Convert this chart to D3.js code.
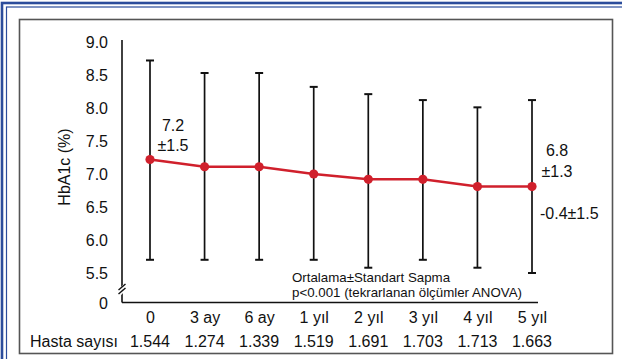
<!DOCTYPE html>
<html>
<head>
<meta charset="utf-8">
<script src="https://cdn.jsdelivr.net/npm/d3@7"></script>
<style>
  body { margin: 0; background: #fff; }
  svg { display: block; font-family: Helvetica, Arial, 'Liberation Sans', sans-serif; }
</style>
</head>
<body>
<svg id="chart" width="622" height="359"></svg>
<script>
// data
const categories = ['0', '3 ay', '6 ay', '1 yıl', '2 yıl', '3 yıl', '4 yıl', '5 yıl'];
const means      = [7.22, 7.11, 7.11, 7.0, 6.92, 6.92, 6.81, 6.81];
const upper      = [8.72, 8.53, 8.53, 8.32, 8.21, 8.12, 8.01, 8.12];
const lower      = [5.70, 5.70, 5.70, 5.70, 5.58, 5.70, 5.58, 5.50];
const patientCounts = ['1.544', '1.274', '1.339', '1.519', '1.691', '1.703', '1.713', '1.663'];
const yTicks = [5.5, 6.0, 6.5, 7.0, 7.5, 8.0, 8.5, 9.0];

// configs
const RED = '#d0202c';
const BLUE = '#2b4c9b';
const CAP_W = 8;

const svg = d3.select('#chart');

// frame: blue double rule (top/left), grey panel
svg.append('rect').attr('x', 2).attr('y', 3).attr('width', 640).attr('height', 400)
  .attr('fill', 'none').attr('stroke', BLUE).attr('stroke-width', 2.6);
svg.append('rect').attr('x', 6.5).attr('y', 7).attr('width', 640).attr('height', 400)
  .attr('fill', 'none').attr('stroke', BLUE).attr('stroke-width', 1.2);
svg.append('rect').attr('x', 19.5).attr('y', 19.5).attr('width', 593).attr('height', 334)
  .attr('fill', '#fff').attr('stroke', '#555').attr('stroke-width', 1.6);

// scales
const y = d3.scaleLinear().domain([5.5, 9.0]).range([273, 42]);
const x = d3.scalePoint().domain(categories).range([150, 532]);
const AXIS_X = 122;
const AXIS_Y = 302.5;

// y axis labels
const yAxis = svg.append('g')
  .attr('transform', `translate(${AXIS_X},0)`)
  .call(d3.axisLeft(y).tickValues(yTicks).tickFormat(d3.format('.1f')).tickSize(0).tickPadding(14));
yAxis.select('.domain').remove();
yAxis.selectAll('text').attr('font-size', 16).attr('font-family', null).attr('fill', '#111');

// zero label below axis break
svg.append('text').attr('x', AXIS_X - 14).attr('y', 303).attr('dy', '0.35em')
  .attr('text-anchor', 'end').attr('font-size', 16).attr('fill', '#111').text('0');

// x axis labels
const xAxis = svg.append('g')
  .attr('transform', `translate(0,${AXIS_Y})`)
  .call(d3.axisBottom(x).tickSize(0).tickPadding(9));
xAxis.select('.domain').remove();
xAxis.selectAll('text').attr('font-size', 16).attr('font-family', null).attr('fill', '#111');

// axis lines
svg.append('line').attr('x1', AXIS_X).attr('x2', AXIS_X).attr('y1', 40).attr('y2', AXIS_Y)
  .attr('stroke', '#111').attr('stroke-width', 1.6);
svg.append('line').attr('x1', AXIS_X).attr('x2', 538).attr('y1', AXIS_Y).attr('y2', AXIS_Y)
  .attr('stroke', '#111').attr('stroke-width', 1.6);

// axis break marks
const brk = svg.append('g');
[0, 4].forEach(off => {
  brk.append('line')
    .attr('x1', AXIS_X - 3).attr('y1', 291 + off)
    .attr('x2', AXIS_X + 3).attr('y2', 285 + off)
    .attr('stroke', '#fff').attr('stroke-width', 3);
});
[0, 4].forEach(off => {
  brk.append('line')
    .attr('x1', AXIS_X - 3.5).attr('y1', 290 + off)
    .attr('x2', AXIS_X + 3.5).attr('y2', 284 + off)
    .attr('stroke', '#111').attr('stroke-width', 1.4);
});

// y axis title
svg.append('text')
  .attr('transform', 'translate(70,167) rotate(-90)')
  .attr('text-anchor', 'middle').attr('font-size', 16).attr('fill', '#111')
  .text('HbA1c (%)');

// error bars
const bars = svg.append('g').selectAll('g.err')
  .data(categories.map((c, i) => ({ c, lo: lower[i], hi: upper[i] })))
  .join('g').attr('class', 'err')
  .attr('stroke', '#111').attr('stroke-width', 1.7);
bars.append('line')
  .attr('x1', d => x(d.c)).attr('x2', d => x(d.c))
  .attr('y1', d => y(d.lo)).attr('y2', d => y(d.hi));
bars.append('line')
  .attr('x1', d => x(d.c) - CAP_W / 2).attr('x2', d => x(d.c) + CAP_W / 2)
  .attr('y1', d => y(d.hi)).attr('y2', d => y(d.hi)).attr('stroke-width', 2);
bars.append('line')
  .attr('x1', d => x(d.c) - CAP_W / 2).attr('x2', d => x(d.c) + CAP_W / 2)
  .attr('y1', d => y(d.lo)).attr('y2', d => y(d.lo)).attr('stroke-width', 2);

// mean line + markers
const pts = categories.map((c, i) => ({ c, v: means[i] }));
svg.append('path').datum(pts)
  .attr('fill', 'none').attr('stroke', RED).attr('stroke-width', 2.6)
  .attr('d', d3.line().x(d => x(d.c)).y(d => y(d.v)));
svg.append('g').selectAll('circle').data(pts).join('circle')
  .attr('cx', d => x(d.c)).attr('cy', d => y(d.v)).attr('r', 4.6)
  .attr('fill', RED);

// annotations
const ann = svg.append('g').attr('font-size', 16).attr('fill', '#111');
ann.append('text').attr('x', 173).attr('y', 131).attr('text-anchor', 'middle').text('7.2');
ann.append('text').attr('x', 173).attr('y', 151).attr('text-anchor', 'middle').text('±1.5');
ann.append('text').attr('x', 557).attr('y', 156).attr('text-anchor', 'middle').text('6.8');
ann.append('text').attr('x', 557).attr('y', 177).attr('text-anchor', 'middle').text('±1.3');
ann.append('text').attr('x', 540).attr('y', 219).text('-0.4±1.5');

const note = svg.append('g').attr('font-size', 13.3).attr('fill', '#111');
note.append('text').attr('x', 292).attr('y', 282).text('Ortalama±Standart Sapma');
note.append('text').attr('x', 292).attr('y', 297).text('p<0.001 (tekrarlanan ölçümler ANOVA)');

// patient counts row
const row = svg.append('g').attr('font-size', 16).attr('fill', '#111');
row.append('text').attr('x', 30).attr('y', 347).text('Hasta sayısı');
row.selectAll('text.n').data(categories.map((c, i) => ({ c, n: patientCounts[i] })))
  .join('text').attr('class', 'n')
  .attr('x', d => x(d.c)).attr('y', 347).attr('text-anchor', 'middle')
  .text(d => d.n);
</script>
</body>
</html>
